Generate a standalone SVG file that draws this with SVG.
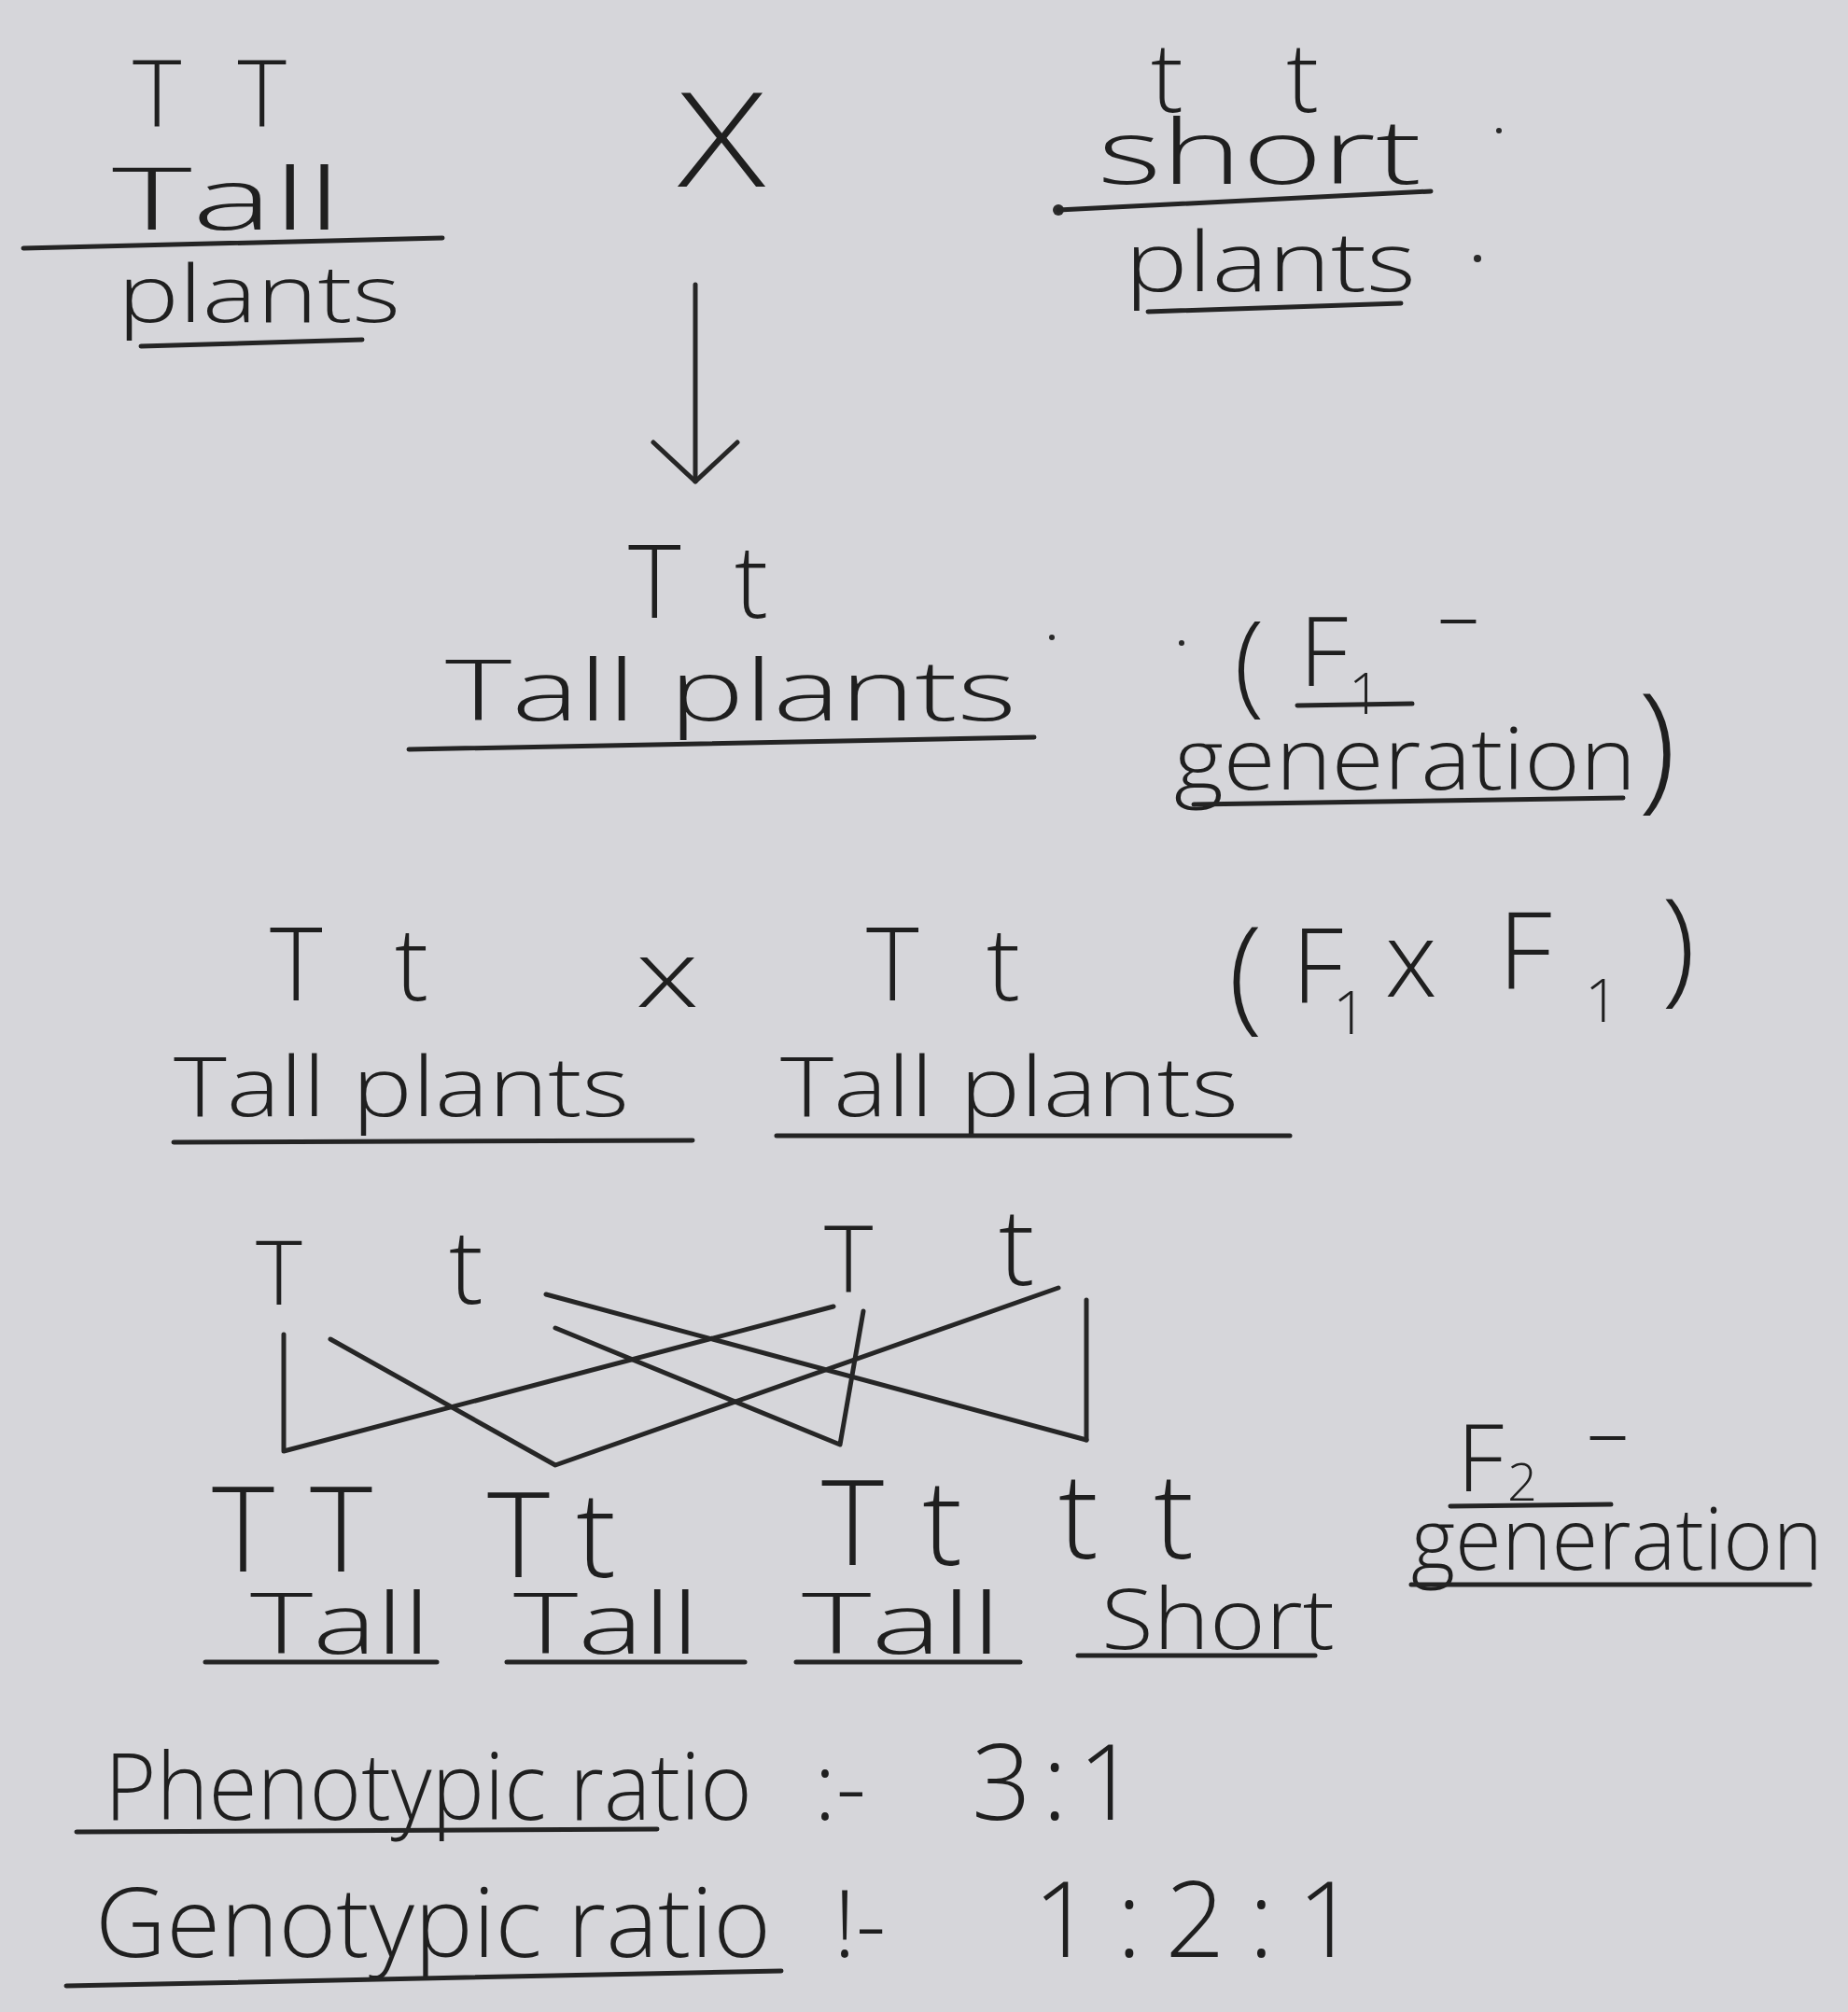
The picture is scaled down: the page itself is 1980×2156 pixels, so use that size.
<svg xmlns="http://www.w3.org/2000/svg" width="1980" height="2156" viewBox="0 0 1980 2156">
<defs>
<style>
.t{font-family:"Open Sans","Inter","Liberation Sans",sans-serif;font-weight:300;fill:#1f1f1f;}
.ul{stroke:#242424;stroke-width:5;stroke-linecap:round;fill:none;}
.cn{stroke:#262626;stroke-width:5;stroke-linecap:round;stroke-linejoin:round;fill:none;}
.dot{fill:#2a2a2a;}
</style>
<marker id="ah" viewBox="0 0 48 96" refX="45" refY="48" markerWidth="48" markerHeight="96" markerUnits="userSpaceOnUse" orient="auto">
<path d="M3 3 L45 48 L3 93" fill="none" stroke="#262626" stroke-width="5" stroke-linecap="round" stroke-linejoin="round"/>
</marker>
</defs>
<rect width="1980" height="2156" fill="#d6d6da"/>

<g id="parent-tall">
<text class="t" x="142" y="136" font-size="100" textLength="165" lengthAdjust="spacing">TT</text>
<text class="t" x="120" y="246" font-size="92" textLength="246" lengthAdjust="spacingAndGlyphs">Tall</text>
<line class="ul" x1="25" y1="266" x2="474" y2="255"/>
<text class="t" x="126" y="345" font-size="84" textLength="303" lengthAdjust="spacingAndGlyphs">plants</text>
<line class="ul" x1="151" y1="371" x2="388" y2="364"/>
</g>

<g id="cross-symbol">
<text class="t" x="726" y="200" font-size="140" textLength="94" lengthAdjust="spacingAndGlyphs">X</text>
</g>

<g id="parent-short">
<text class="t" x="1233" y="120" font-size="104" textLength="180" lengthAdjust="spacing">tt</text>
<text class="t" x="1176" y="197" font-size="95" textLength="347" lengthAdjust="spacingAndGlyphs">short</text>
<circle class="dot" cx="1606" cy="140" r="3"/>
<circle class="dot" cx="1134" cy="225" r="6"/>
<line class="ul" x1="1134" y1="225" x2="1533" y2="205"/>
<text class="t" x="1205" y="312" font-size="88" textLength="312" lengthAdjust="spacingAndGlyphs">plants</text>
<circle class="dot" cx="1583" cy="277" r="4"/>
<line class="ul" x1="1230" y1="334" x2="1501" y2="325"/>
</g>

<g id="f1-offspring">
<text class="t" x="673" y="662" font-size="108" textLength="150" lengthAdjust="spacing">Tt</text>
<text class="t" x="477" y="772" font-size="90" textLength="612" lengthAdjust="spacingAndGlyphs">Tall plants</text>
<circle class="dot" cx="1127" cy="683" r="3"/>
<circle class="dot" cx="1266" cy="689" r="3"/>
<line class="ul" x1="438" y1="803" x2="1108" y2="790"/>
</g>

<g id="f1-label">
<text class="t" font-size="120"><tspan x="1322" y="752">(</tspan><tspan x="1392" y="735" font-size="104">F</tspan><tspan x="1445" y="765" font-size="60">1</tspan><tspan x="1540" y="690" font-size="90">–</tspan></text>
<line class="ul" x1="1390" y1="756" x2="1513" y2="754"/>
<text class="t" x="1258" y="846" font-size="92" textLength="495" lengthAdjust="spacingAndGlyphs">generation</text>
<text class="t" x="1755" y="850" font-size="150">)</text>
<line class="ul" x1="1279" y1="862" x2="1739" y2="855"/>
</g>

<g id="f1-cross">
<text class="t" x="289" y="1072" font-size="108" textLength="170" lengthAdjust="spacing">Tt</text>
<text class="t" x="681" y="1079" font-size="100" textLength="68" lengthAdjust="spacingAndGlyphs">x</text>
<text class="t" x="928" y="1072" font-size="108" textLength="165" lengthAdjust="spacing">Tt</text>
<text class="t" font-size="135"><tspan x="1316" y="1090">(</tspan><tspan x="1384" y="1074" font-size="110">F</tspan><tspan x="1428" y="1108" font-size="64">1</tspan><tspan x="1484" y="1068" font-size="112">x</tspan><tspan x="1605" y="1060" font-size="115">F</tspan><tspan x="1698" y="1095" font-size="64">1</tspan><tspan x="1780" y="1060">)</tspan></text>
<text class="t" x="186" y="1196" font-size="88" textLength="488" lengthAdjust="spacingAndGlyphs">Tall plants</text>
<line class="ul" x1="186" y1="1224" x2="742" y2="1222"/>
<text class="t" x="836" y="1196" font-size="88" textLength="491" lengthAdjust="spacingAndGlyphs">Tall plants</text>
<line class="ul" x1="832" y1="1217" x2="1382" y2="1217"/>
</g>

<g id="gametes">
<text class="t" x="274" y="1398" font-size="95">T</text>
<text class="t" x="481" y="1397" font-size="110">t</text>
<text class="t" x="883" y="1385" font-size="100">T</text>
<text class="t" x="1070" y="1377" font-size="115">t</text>
</g>

<g id="f2-offspring">
<text class="t" x="227" y="1684" font-size="128" textLength="172" lengthAdjust="spacing">TT</text>
<text class="t" x="522" y="1690" font-size="128" textLength="138" lengthAdjust="spacing">Tt</text>
<text class="t" x="880" y="1677" font-size="128" textLength="151" lengthAdjust="spacing">Tt</text>
<text class="t" x="1134" y="1670" font-size="128" textLength="145" lengthAdjust="spacing">tt</text>
<text class="t" x="268" y="1772" font-size="90" textLength="193" lengthAdjust="spacingAndGlyphs">Tall</text>
<line class="ul" x1="220" y1="1781" x2="468" y2="1781"/>
<text class="t" x="550" y="1772" font-size="90" textLength="199" lengthAdjust="spacingAndGlyphs">Tall</text>
<line class="ul" x1="543" y1="1781" x2="798" y2="1781"/>
<text class="t" x="859" y="1772" font-size="90" textLength="214" lengthAdjust="spacingAndGlyphs">Tall</text>
<line class="ul" x1="853" y1="1781" x2="1093" y2="1781"/>
<text class="t" x="1180" y="1767" font-size="90" textLength="250" lengthAdjust="spacingAndGlyphs">Short</text>
<line class="ul" x1="1155" y1="1774" x2="1409" y2="1774"/>
</g>

<g id="f2-label">
<text class="t" font-size="100"><tspan x="1561" y="1598">F</tspan><tspan x="1615" y="1608" font-size="56">2</tspan><tspan x="1700" y="1565" font-size="90">–</tspan></text>
<line class="ul" x1="1554" y1="1614" x2="1726" y2="1612"/>
<text class="t" x="1512" y="1682" font-size="92" textLength="441" lengthAdjust="spacingAndGlyphs">generation</text>
<line class="ul" x1="1512" y1="1698" x2="1939" y2="1698"/>
</g>

<g id="ratios">
<text class="t" x="112" y="1950" font-size="100" textLength="694" lengthAdjust="spacingAndGlyphs">Phenotypic ratio</text>
<line class="ul" x1="82" y1="1963" x2="704" y2="1960"/>
<text class="t" x="872" y="1950" font-size="100">:-</text>
<text class="t" x="1041" y="1950" font-size="112" textLength="178" lengthAdjust="spacing">3:1</text>
<text class="t" x="102" y="2097" font-size="104" textLength="724" lengthAdjust="spacingAndGlyphs">Genotypic ratio</text>
<line class="ul" x1="71" y1="2128" x2="837" y2="2112"/>
<text class="t" x="893" y="2097" font-size="100">!-</text>
<text class="t" x="1107" y="2097" font-size="112" textLength="347" lengthAdjust="spacing">1:2:1</text>
</g>

<g id="connectors">
<line class="cn" x1="745" y1="305" x2="745" y2="516" marker-end="url(#ah)"/>
<polyline class="cn" points="304,1430 304,1555 893,1400"/>
<polyline class="cn" points="354,1435 595,1570 1134,1380"/>
<line class="cn" x1="585" y1="1387" x2="1164" y2="1543"/>
<line class="cn" x1="1164" y1="1393" x2="1164" y2="1543"/>
<polyline class="cn" points="595,1423 900,1548 925,1405"/>
</g>
</svg>
